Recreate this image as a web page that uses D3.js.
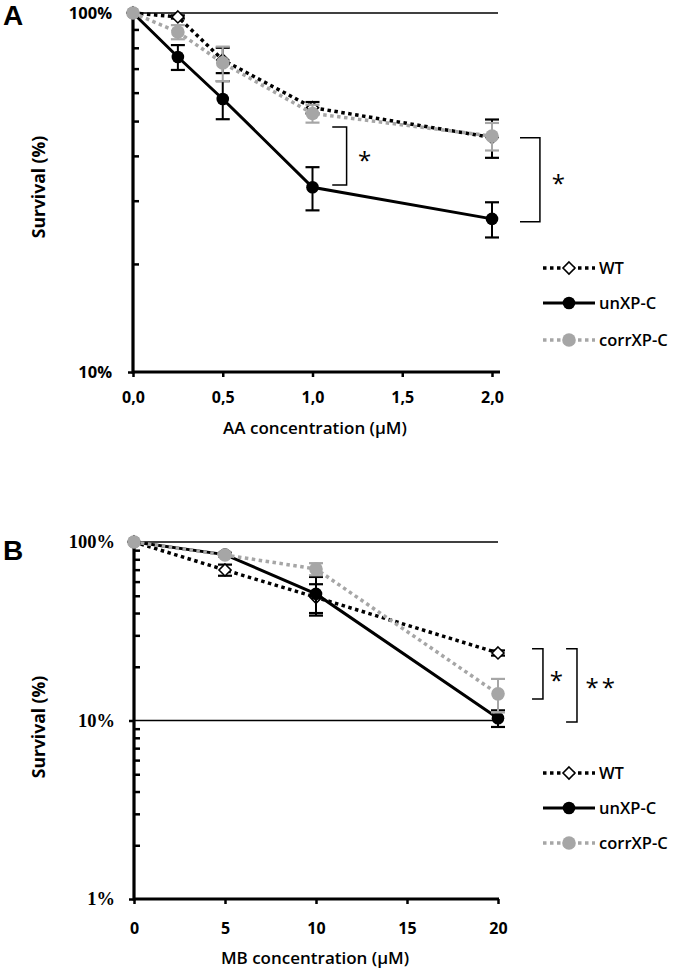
<!DOCTYPE html>
<html><head><meta charset="utf-8">
<script src="https://cdn.jsdelivr.net/npm/d3@7/dist/d3.min.js"></script>
<style>
body{margin:0;background:#fff;}
svg{display:block;}
</style></head>
<body>
<svg id="chart" width="675" height="970"></svg>
<script>
// ---------- DATA ----------
const seriesNames = ["WT", "unXP-C", "corrXP-C"];

// Panel A: AA concentration (µM)
const xA = [0, 0.25, 0.5, 1.0, 2.0];
const wtA = [1, 0.975, 0.74, 0.545, 0.45];
const wtAErr = [0, 0.01, 0.06, 0.02, 0.055];
const unA = [1, 0.754, 0.576, 0.327, 0.267];
const unAErr = [0, 0.06, 0.07, 0.045, 0.03];
const corrA = [1, 0.885, 0.726, 0.525, 0.454];
const corrAErr = [0, 0.04, 0.08, 0.03, 0.04];
const xTicksA = [0, 0.5, 1.0, 1.5, 2.0];
const yTicksA = [0.1, 1];
const yMinorA = [0.2, 0.3, 0.4, 0.5, 0.6, 0.7, 0.8, 0.9];

// Panel B: MB concentration (µM)
const xB = [0, 5, 10, 20];
const wtB = [1, 0.697, 0.49, 0.239];
const wtBErr = [0, 0.05, 0.09, 0.008];
const unB = [1, 0.85, 0.512, 0.103];
const unBErr = [0, 0.02, 0.125, 0.011];
const corrB = [1, 0.846, 0.706, 0.141];
const corrBErr = [0, 0.015, 0.055, 0.03];
const xTicksB = [0, 5, 10, 15, 20];
const yTicksB = [0.01, 0.1, 1];
const yMinorB = [0.02,0.03,0.04,0.05,0.06,0.07,0.08,0.09,0.2,0.3,0.4,0.5,0.6,0.7,0.8,0.9];

// significance brackets (data coordinates)
const sigA = [
  {x1: 1.11, x2: 1.19, y1: 0.481, y2: 0.332, label: "*", lx: 1.29, ly: 0.40},
  {x1: 2.156, x2: 2.267, y1: 0.449, y2: 0.262, label: "*", lx: 2.37, ly: 0.345}
];
const sigB = [
  {x1: 21.87, x2: 22.47, y1: 0.252, y2: 0.132, label: "*", lx: 23.2, ly: 0.178},
  {x1: 23.74, x2: 24.34, y1: 0.252, y2: 0.098, label: "**", lx: 25.7, ly: 0.162}
];

// ---------- DRAW ----------
const svg = d3.select("#chart");
const GRAY = "#a6a6a6";
const sansB = "'Open Sans', 'Liberation Sans', sans-serif";

const styles = [
  {color: "#000", dash: "3.5,3.5", width: 3.5, marker: "diamond", errColor: "#000"},
  {color: "#000", dash: null, width: 3, marker: "circle", fill: "#000", errColor: "#000"},
  {color: GRAY, dash: "3.5,3.5", width: 3.5, marker: "circle", fill: GRAY, errColor: GRAY}
];

function drawMarker(g, st, cx, cy) {
  if (st.marker === "diamond") {
    const s = 6;
    g.append("path")
      .attr("d", `M${cx},${cy - s}L${cx + s},${cy}L${cx},${cy + s}L${cx - s},${cy}Z`)
      .attr("fill", "#fff").attr("stroke", "#000").attr("stroke-width", 1.6);
  } else {
    g.append("circle").attr("cx", cx).attr("cy", cy)
      .attr("r", st.fill === GRAY ? 6.8 : 6.3).attr("fill", st.fill);
  }
}

function panel(cfg) {
  const g = svg.append("g");
  const x = d3.scaleLinear().domain(cfg.xDomain).range(cfg.xRange);
  const y = d3.scaleLog().domain(cfg.yDomain).range(cfg.yRange);

  // horizontal gridlines
  cfg.grid.forEach(v => {
    g.append("line").attr("x1", cfg.xRange[0]).attr("x2", cfg.gridEnd)
      .attr("y1", y(v)).attr("y2", y(v)).attr("stroke", "#000").attr("stroke-width", 1.5);
  });

  // x axis
  const xa = g.append("g").attr("transform", `translate(0,${cfg.yRange[0]})`)
    .call(d3.axisBottom(x).tickValues(cfg.xTicks).tickSize(5).tickPadding(cfg.xPad)
      .tickFormat(cfg.xFormat));
  xa.select(".domain").remove();
  xa.selectAll(".tick line").attr("stroke-width", 2.5);
  xa.selectAll("text").attr("font-family", sansB).attr("font-weight", 700)
    .attr("font-size", 16).attr("fill", "#000");

  // y axis major
  const ya = g.append("g").attr("transform", `translate(${cfg.xRange[0]},0)`)
    .call(d3.axisLeft(y).tickValues(cfg.yTicks).tickSize(5).tickPadding(cfg.yPad)
      .tickFormat(d => d3.format(".0%")(d)));
  ya.select(".domain").remove();
  ya.selectAll(".tick line").attr("stroke-width", 2.5);
  ya.selectAll("text").attr("font-family", cfg.yFont).attr("font-weight", 700)
    .attr("font-size", cfg.yFontSize).attr("fill", "#000");

  // y minor (inside)
  const ym = g.append("g").attr("transform", `translate(${cfg.xRange[0]},0)`)
    .call(d3.axisRight(y).tickValues(cfg.yMinor).tickSize(6).tickFormat(""));
  ym.select(".domain").remove();
  ym.selectAll(".tick line").attr("stroke-width", 2.5);

  // axis lines
  g.append("line").attr("x1", cfg.xRange[0]).attr("x2", cfg.axisEnd)
    .attr("y1", cfg.yRange[0]).attr("y2", cfg.yRange[0])
    .attr("stroke", "#000").attr("stroke-width", 3.2);
  g.append("line").attr("x1", cfg.xRange[0]).attr("x2", cfg.xRange[0])
    .attr("y1", cfg.yRange[1]).attr("y2", cfg.yRange[0] + 1.5)
    .attr("stroke", "#000").attr("stroke-width", 3.2);

  // series
  const line = d3.line().x(d => x(d[0])).y(d => y(d[1]));
  cfg.series.forEach((s, i) => {
    const st = styles[i];
    const pts = cfg.xs.map((xv, j) => [xv, s.vals[j]]);
    g.append("path").attr("d", line(pts)).attr("fill", "none")
      .attr("stroke", st.color).attr("stroke-width", st.width)
      .attr("stroke-dasharray", st.dash);
    // error bars
    cfg.xs.forEach((xv, j) => {
      const e = s.errs[j];
      if (!e) return;
      const cx = x(xv), top = y(s.vals[j] + e), bot = y(s.vals[j] - e);
      g.append("line").attr("x1", cx).attr("x2", cx).attr("y1", top).attr("y2", bot)
        .attr("stroke", st.errColor).attr("stroke-width", 2);
      [top, bot].forEach(yy => g.append("line").attr("x1", cx - 7).attr("x2", cx + 7)
        .attr("y1", yy).attr("y2", yy).attr("stroke", st.errColor).attr("stroke-width", 2.2));
    });
    cfg.xs.forEach((xv, j) => drawMarker(g, st, x(xv), y(s.vals[j])));
  });

  // significance brackets
  cfg.sig.forEach(b => {
    g.append("path")
      .attr("d", `M${x(b.x1)},${y(b.y1)}H${x(b.x2)}V${y(b.y2)}H${x(b.x1)}`)
      .attr("fill", "none").attr("stroke", "#000").attr("stroke-width", 1.5);
    g.append("text").attr("x", x(b.lx)).attr("y", y(b.ly) + 13)
      .attr("text-anchor", "middle").attr("font-family", "'Open Sans', sans-serif")
      .attr("font-size", 24).attr("letter-spacing", b.label.length > 1 ? 3 : 0)
      .attr("fill", "#000").text(b.label);
  });

  // panel letter
  g.append("text").attr("x", 3).attr("y", cfg.letterY).attr("font-family", "'Liberation Sans', Arial, sans-serif")
    .attr("font-weight", 700).attr("font-size", 28).attr("fill", "#000").text(cfg.letter);

  // axis titles
  g.append("text").attr("transform", `translate(45,${cfg.yTitleY}) rotate(-90)`)
    .attr("text-anchor", "middle").attr("font-family", sansB).attr("font-weight", 700)
    .attr("font-size", 17.5).attr("fill", "#000").text("Survival (%)");
  g.append("text").attr("x", 315).attr("y", cfg.xTitleY).attr("text-anchor", "middle")
    .attr("font-family", sansB).attr("font-weight", 600).attr("font-size", 17)
    .attr("fill", "#000").text(cfg.xTitle);

  // legend
  cfg.legendY.forEach((ly, i) => {
    const st = styles[i];
    g.append("line").attr("x1", 543).attr("x2", 595).attr("y1", ly).attr("y2", ly)
      .attr("stroke", st.color).attr("stroke-width", st.width)
      .attr("stroke-dasharray", st.dash);
    drawMarker(g, st, 569, ly);
    g.append("text").attr("x", 599).attr("y", ly + 6)
      .attr("font-family", sansB).attr("font-weight", 600).attr("font-size", 16.5)
      .attr("fill", "#000").text(seriesNames[i]);
  });
}

panel({
  xs: xA, xDomain: [0, 2], xRange: [133, 492], yDomain: [0.1, 1], yRange: [372, 13],
  xTicks: xTicksA, xFormat: d => d3.format(".1f")(d).replace(".", ","), xPad: 15,
  yTicks: yTicksA, yMinor: yMinorA, yPad: 16, yFont: sansB, yFontSize: 16.5,
  grid: [1], gridEnd: 498, axisEnd: 500,
  series: [
    {vals: wtA, errs: wtAErr},
    {vals: unA, errs: unAErr},
    {vals: corrA, errs: corrAErr}
  ],
  sig: sigA, letter: "A", letterY: 25, yTitleY: 187, xTitleY: 434, xTitle: "AA concentration (µM)",
  legendY: [268, 303, 340]
});

panel({
  xs: xB, xDomain: [0, 20], xRange: [134, 498], yDomain: [0.01, 1], yRange: [899, 542],
  xTicks: xTicksB, xFormat: d3.format("d"), xPad: 19,
  yTicks: yTicksB, yMinor: yMinorB, yPad: 14, yFont: "'Liberation Serif', 'Times New Roman', serif", yFontSize: 18.5,
  grid: [1, 0.1], gridEnd: 498, axisEnd: 499,
  series: [
    {vals: wtB, errs: wtBErr},
    {vals: unB, errs: unBErr},
    {vals: corrB, errs: corrBErr}
  ],
  sig: sigB, letter: "B", letterY: 560, yTitleY: 727, xTitleY: 964, xTitle: "MB concentration (µM)",
  legendY: [773, 808, 843]
});
</script>
</body></html>
